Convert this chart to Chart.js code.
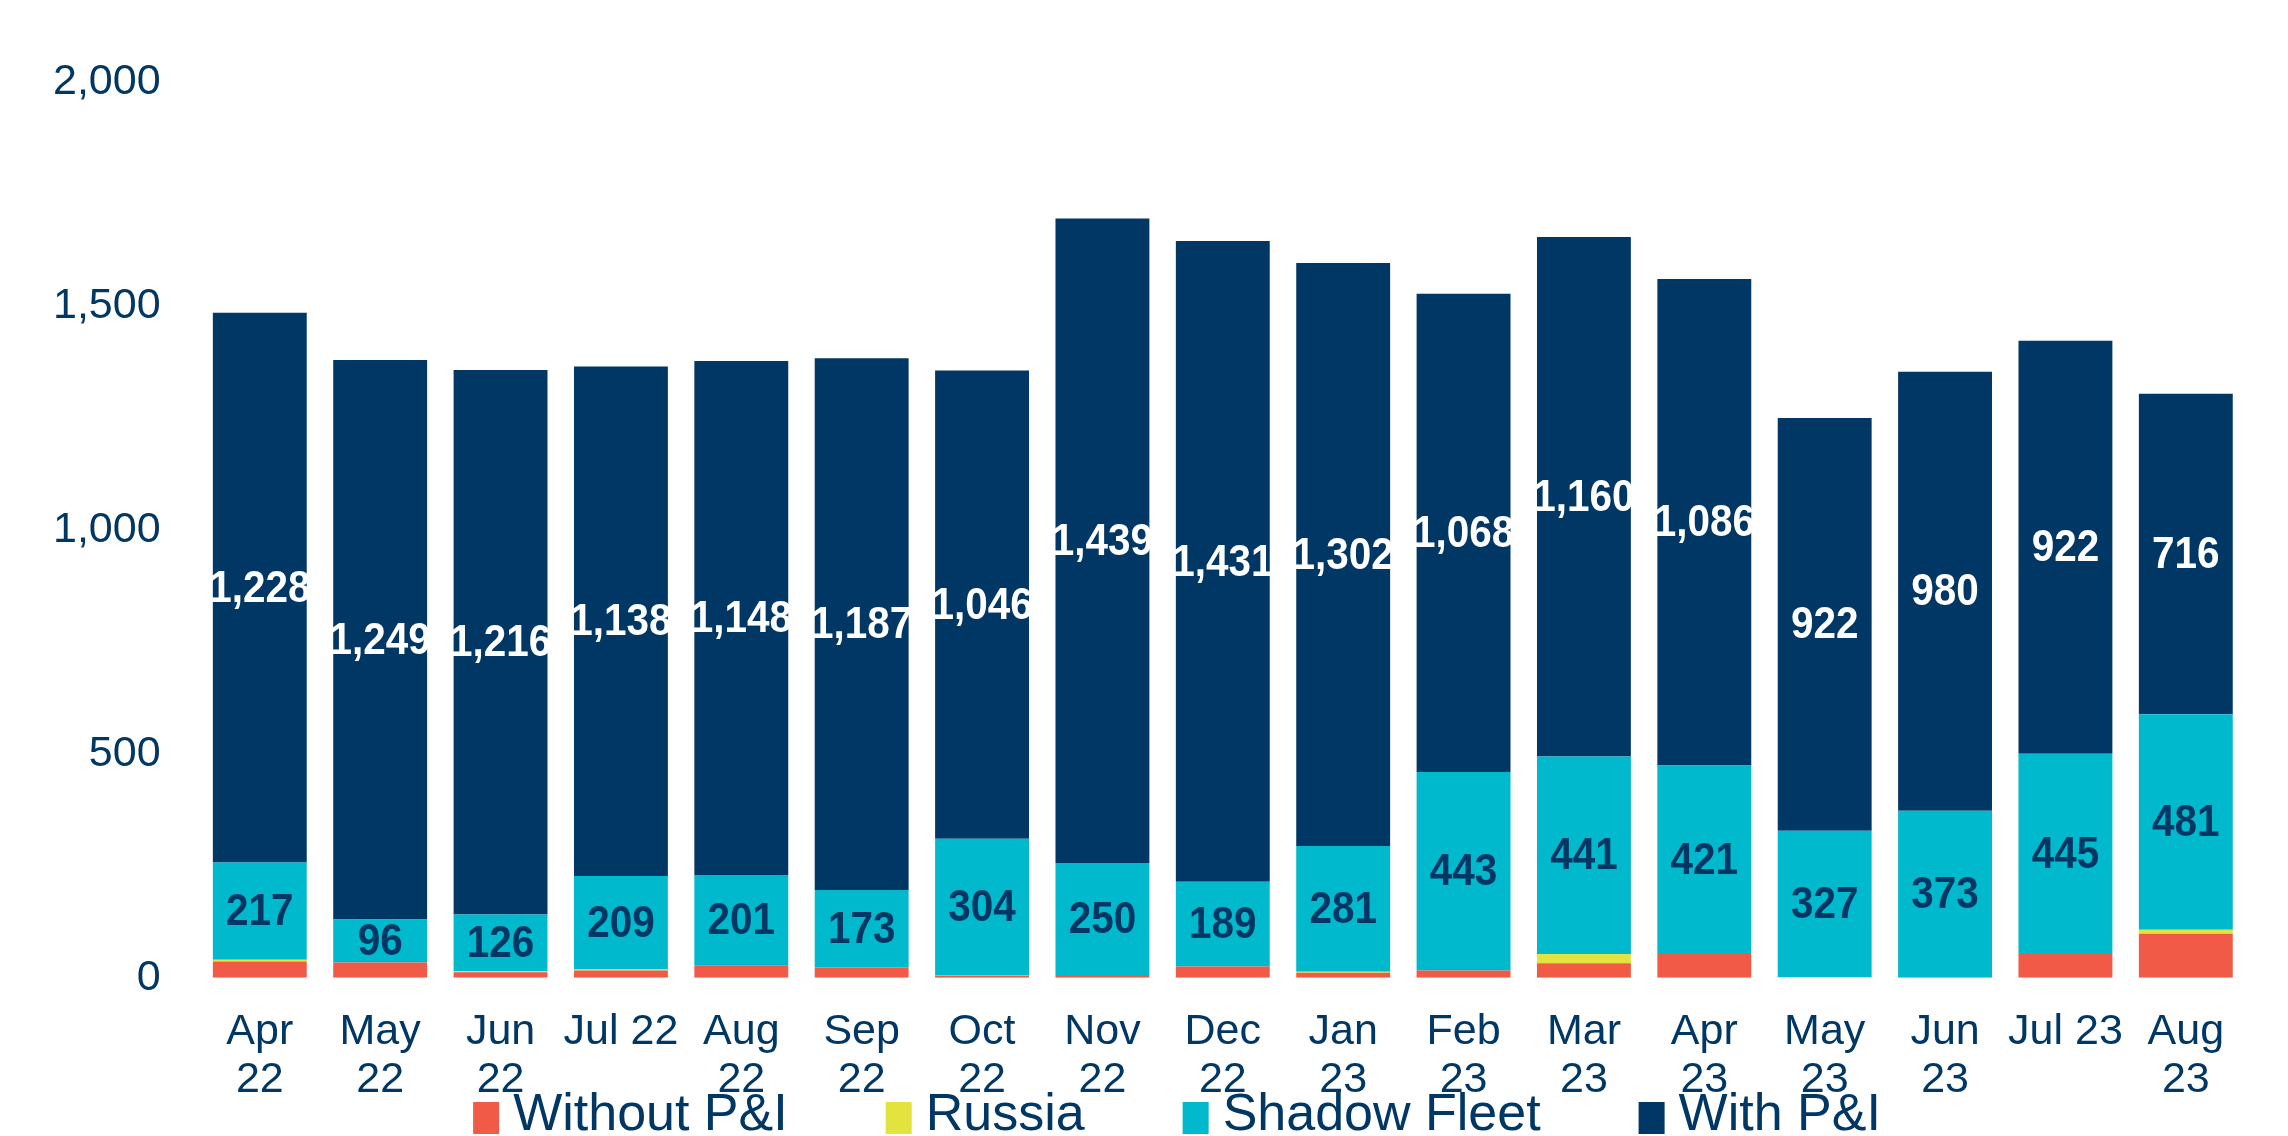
<!DOCTYPE html>
<html>
<head>
<meta charset="utf-8">
<script src="https://cdn.jsdelivr.net/npm/chart.js@4/dist/chart.umd.min.js"></script>
<style>
  html, body { margin: 0; padding: 0; background: #fff; }
  #wrap { width: 2288px; height: 1136px; position: relative; }
</style>
</head>
<body>
<div id="wrap"><canvas id="fleetChart" width="2288" height="1136"></canvas></div>
<script>
// Category labels (multi-line where the original wraps)
const months = [
    ['Apr', '22'], ['May', '22'], ['Jun', '22'], 'Jul 22', ['Aug', '22'], ['Sep', '22'],
    ['Oct', '22'], ['Nov', '22'], ['Dec', '22'], ['Jan', '23'], ['Feb', '23'], ['Mar', '23'],
    ['Apr', '23'], ['May', '23'], ['Jun', '23'], 'Jul 23', ['Aug', '23']
];

// Series values (bottom to top of each stack)
const withoutPI = [36, 34, 12, 16, 28, 23, 5, 6, 25, 11, 16, 32, 53, 0, 0, 55, 98];
const russia = [4, 0, 3, 2, 0, 0, 1, 0, 0, 2, 0, 21, 0, 1, 0, 0, 9];
const shadowFleet = [217, 96, 126, 209, 201, 173, 304, 250, 189, 281, 443, 441, 421, 327, 373, 445, 481];
const withPI = [1228, 1249, 1216, 1138, 1148, 1187, 1046, 1439, 1431, 1302, 1068, 1160, 1086, 922, 980, 922, 716];

// Y axis ticks
const yTicks = [0, 500, 1000, 1500, 2000];

const NAVY = '#003764';
const FONT = "'Liberation Sans', Arial, sans-serif";

// Simple inline data label plugin (no datalabels plugin available offline)
const segmentLabels = {
    id: 'segmentLabels',
    afterDatasetsDraw(chart) {
        const ctx = chart.ctx;
        const colors = { 2: NAVY, 3: '#ffffff' };
        const squeeze = 0.92; // original labels look slightly condensed
        ctx.save();
        ctx.font = 'bold 44px ' + FONT;
        ctx.textAlign = 'center';
        ctx.textBaseline = 'middle';
        Object.keys(colors).forEach(function(idx) {
            const meta = chart.getDatasetMeta(+idx);
            const values = chart.data.datasets[idx].data;
            ctx.fillStyle = colors[idx];
            meta.data.forEach(function(bar, i) {
                const y = (bar.y + bar.base) / 2;
                ctx.save();
                ctx.translate(bar.x, y + 2);
                ctx.scale(squeeze, 1);
                ctx.fillText(values[i].toLocaleString('en-US'), 0, 0);
                ctx.restore();
            });
        });
        ctx.restore();
    }
};

// Legend drawn by hand so it can sit tight under the axis labels
const bottomLegend = {
    id: 'bottomLegend',
    afterDraw(chart) {
        const ctx = chart.ctx;
        const boxW = 26, boxH = 32, textGap = 14, itemGap = 98;
        const sets = chart.data.datasets;
        ctx.save();
        ctx.font = '52px ' + FONT;
        ctx.textBaseline = 'alphabetic';
        ctx.textAlign = 'left';
        const widths = sets.map(function(ds) { return boxW + textGap + ctx.measureText(ds.label).width; });
        const total = widths.reduce(function(a, b) { return a + b; }, 0) + itemGap * (sets.length - 1);
        let x = chart.width / 2 + 33 - total / 2;
        const boxTop = chart.height - 34;
        const baseline = chart.height - 6;
        sets.forEach(function(ds, i) {
            ctx.fillStyle = ds.backgroundColor;
            ctx.fillRect(x, boxTop, boxW, boxH);
            ctx.fillStyle = NAVY;
            ctx.fillText(ds.label, x + boxW + textGap, baseline);
            x += widths[i] + itemGap;
        });
        ctx.restore();
    }
};

document.addEventListener('DOMContentLoaded', function() {
    const canvas = document.getElementById('fleetChart');
    const ctx = canvas.getContext('2d');

    new Chart(ctx, {
        type: 'bar',
        data: {
            labels: months,
            datasets: [
                { label: 'Without P&I', data: withoutPI, backgroundColor: '#F05A46' },
                { label: 'Russia', data: russia, backgroundColor: '#E3E33F' },
                { label: 'Shadow Fleet', data: shadowFleet, backgroundColor: '#00B9CD' },
                { label: 'With P&I', data: withPI, backgroundColor: '#003764' }
            ]
        },
        options: {
            responsive: false,
            animation: false,
            datasets: {
                bar: { categoryPercentage: 1.0, barPercentage: 0.78 }
            },
            layout: {
                padding: { left: 22, right: 42, top: 82, bottom: 10 }
            },
            plugins: {
                legend: { display: false },
                tooltip: { enabled: false }
            },
            scales: {
                x: {
                    stacked: true,
                    grid: { display: false },
                    border: { display: false },
                    ticks: {
                        color: NAVY,
                        font: { family: FONT, size: 43, lineHeight: 1.12 },
                        maxRotation: 0,
                        autoSkip: false,
                        padding: 22
                    }
                },
                y: {
                    stacked: true,
                    min: 0,
                    max: 2000,
                    afterBuildTicks: function(axis) {
                        axis.ticks = yTicks.map(function(v) { return { value: v }; });
                    },
                    grid: { display: false },
                    border: { display: false },
                    ticks: {
                        color: NAVY,
                        font: { family: FONT, size: 43 },
                        padding: 31,
                        callback: function(value) {
                            return value.toLocaleString('en-US');
                        }
                    }
                }
            }
        },
        plugins: [segmentLabels, bottomLegend]
    });
});
</script>
</body>
</html>
